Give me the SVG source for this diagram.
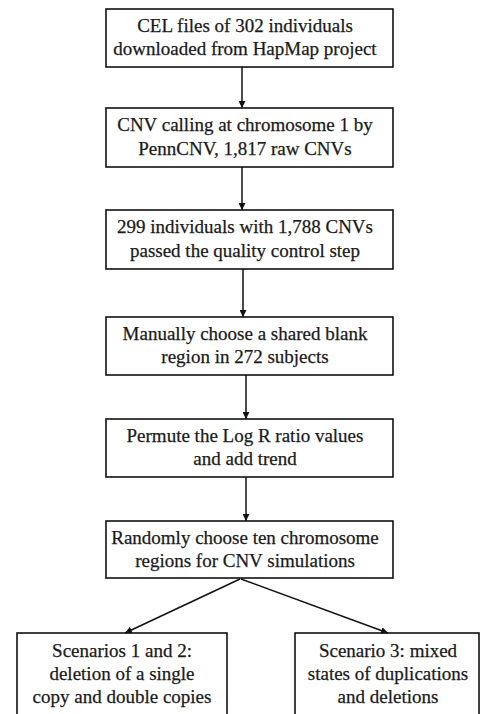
<svg xmlns="http://www.w3.org/2000/svg" width="485" height="714" viewBox="0 0 485 714">
<defs>
<style>
.box{fill:#fff;stroke:#111;stroke-width:1.6}
.t{font-family:'Liberation Serif', 'DejaVu Serif', serif;font-size:19px;fill:#1a1a1a;stroke:#1a1a1a;stroke-width:0.25;text-anchor:middle}
.c{stroke:#111;stroke-width:1.5;fill:none;marker-end:url(#ah)}
</style>
<marker id="ah" viewBox="0 0 10 10" refX="10" refY="5" markerWidth="7" markerHeight="7" markerUnits="userSpaceOnUse" orient="auto">
<path d="M0,0 L10,5 L0,10 z" fill="#111"/>
</marker>
</defs>
<rect width="485" height="714" fill="#fff"/>
<g id="n1"><rect class="box" x="106" y="9" width="287" height="58"/>
<text class="t" x="245" y="32">CEL files of 302 individuals</text>
<text class="t" x="245" y="55">downloaded from HapMap project</text></g>
<g id="n2"><rect class="box" x="106" y="108" width="287" height="59"/>
<text class="t" x="245" y="131">CNV calling at chromosome 1 by</text>
<text class="t" x="245" y="155">PennCNV, 1,817 raw CNVs</text></g>
<g id="n3"><rect class="box" x="106" y="210" width="287" height="59"/>
<text class="t" x="245" y="233">299 individuals with 1,788 CNVs</text>
<text class="t" x="245" y="257">passed the quality control step</text></g>
<g id="n4"><rect class="box" x="106" y="317" width="287" height="58"/>
<text class="t" x="245" y="340">Manually choose a shared blank</text>
<text class="t" x="245" y="363">region in 272 subjects</text></g>
<g id="n5"><rect class="box" x="106" y="419" width="287" height="58"/>
<text class="t" x="245" y="442">Permute the Log R ratio values</text>
<text class="t" x="245" y="465">and add trend</text></g>
<g id="n6"><rect class="box" x="106" y="521" width="287" height="57"/>
<text class="t" x="245" y="544">Randomly choose ten chromosome</text>
<text class="t" x="245" y="567">regions for CNV simulations</text></g>
<g id="n7"><rect class="box" x="17" y="633" width="210" height="90"/>
<text class="t" x="122" y="657">Scenarios 1 and 2:</text>
<text class="t" x="122" y="680">deletion of a single</text>
<text class="t" x="122" y="703">copy and double copies</text></g>
<g id="n8"><rect class="box" x="295" y="633" width="184" height="90"/>
<text class="t" x="388" y="657">Scenario 3: mixed</text>
<text class="t" x="388" y="680">states of duplications</text>
<text class="t" x="388" y="703">and deletions</text></g>
<g id="connectors">
<line class="c" x1="242" y1="67" x2="242" y2="108"/>
<line class="c" x1="242" y1="167" x2="242" y2="210"/>
<line class="c" x1="243" y1="269" x2="243" y2="317"/>
<line class="c" x1="246" y1="375" x2="246" y2="419"/>
<line class="c" x1="246" y1="477" x2="246" y2="521"/>
<line class="c" x1="240" y1="579" x2="125" y2="633"/>
<line class="c" x1="241" y1="579" x2="388" y2="633"/>
</g>
</svg>
